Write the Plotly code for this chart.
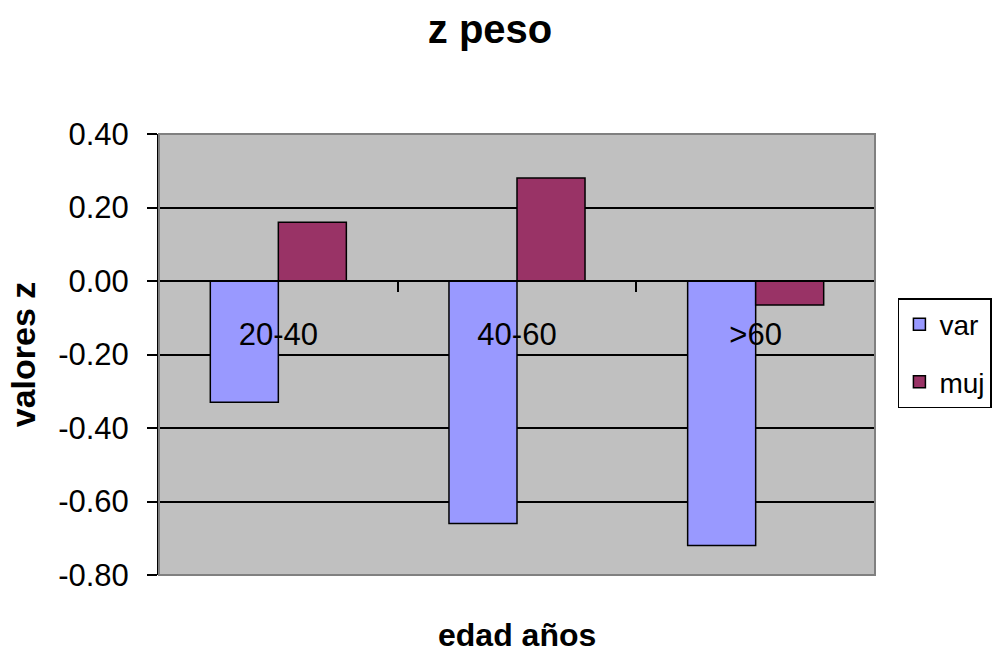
import plotly.graph_objects as go

# Age groups and z-scores of weight by sex
categories = ["20-40", "40-60", ">60"]
var_values = [-0.33, -0.66, -0.72]
muj_values = [0.16, 0.28, -0.065]
y_tick_values = [0.4, 0.2, 0.0, -0.2, -0.4, -0.6, -0.8]
y_tick_labels = ["0.40", "0.20", "0.00", "-0.20", "-0.40", "-0.60", "-0.80"]

FONT = "Liberation Sans, Arial, sans-serif"

fig = go.Figure()
fig.add_trace(go.Bar(
    name="var", x=categories, y=var_values, legendgroup="var",
    marker=dict(color="#9999FF", line=dict(color="black", width=1.5)),
))
fig.add_trace(go.Bar(
    name="muj", x=categories, y=muj_values, legendgroup="muj",
    marker=dict(color="#993366", line=dict(color="black", width=1.5)),
))

# gray frame around the plotting area
fig.add_shape(type="rect", xref="paper", yref="paper", x0=0, x1=1, y0=0, y1=1,
              line=dict(color="#808080", width=2), layer="above")

# x-axis title placed below the plot
fig.add_annotation(text="<b>edad años</b>", xref="paper", yref="paper",
                   x=0.5, y=0, yshift=-80, yanchor="bottom", showarrow=False,
                   font=dict(family=FONT, size=32, color="black"))

fig.update_layout(
    width=996, height=655, autosize=False,
    margin=dict(l=159, r=121, t=134, b=80, autoexpand=False),
    paper_bgcolor="white", plot_bgcolor="#C0C0C0",
    barmode="group", bargap=0.43, bargroupgap=0,
    title=dict(text="<b>z peso</b>", x=0.492, xanchor="center", y=0.955, yanchor="middle",
               font=dict(family=FONT, size=40, color="black")),
    font=dict(family=FONT, color="black"),
    legend=dict(x=1.032, xanchor="left", y=0.628, yanchor="top",
                bordercolor="black", borderwidth=1.5, bgcolor="white",
                font=dict(family=FONT, size=28, color="black"),
                tracegroupgap=18),
    xaxis=dict(
        anchor="free", position=2/3,
        showline=True, linecolor="black", linewidth=2,
        ticks="outside", tickson="boundaries", ticklen=10, tickwidth=2, tickcolor="black",
        ticklabelstandoff=26,
        tickfont=dict(family=FONT, size=31, color="black"),
        showgrid=False, zeroline=False,
    ),
    yaxis=dict(
        range=[-0.8, 0.4], tickvals=y_tick_values, ticktext=y_tick_labels,
        showline=True, linecolor="black", linewidth=2,
        ticks="outside", ticklen=10, tickwidth=2, tickcolor="black",
        ticklabelstandoff=12,
        tickfont=dict(family=FONT, size=31, color="black"),
        showgrid=True, gridcolor="black", gridwidth=2, zeroline=False,
        title=dict(text="<b>valores z</b>", standoff=12,
                   font=dict(family=FONT, size=34, color="black")),
    ),
)

fig.write_html("out.html")
